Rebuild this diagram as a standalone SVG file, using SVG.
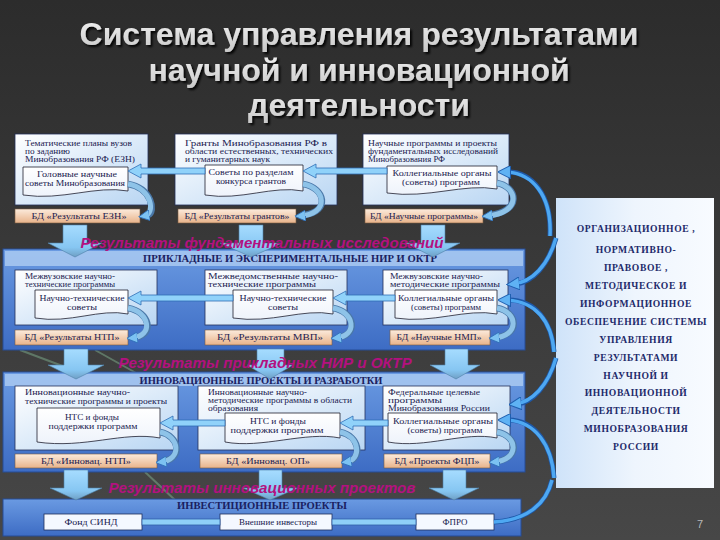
<svg xmlns="http://www.w3.org/2000/svg" width="720" height="540" viewBox="0 0 720 540">
<defs>
<linearGradient id="bg" x1="0" y1="0" x2="0" y2="1"><stop offset="0" stop-color="#2c2c2c"/><stop offset="1" stop-color="#474747"/></linearGradient>
<linearGradient id="boxG" x1="0" y1="0" x2="1" y2="1"><stop offset="0" stop-color="#ffffff"/><stop offset="1" stop-color="#b9d6f3"/></linearGradient>
<linearGradient id="docG" x1="0" y1="0" x2="0" y2="1"><stop offset="0" stop-color="#ffffff"/><stop offset="1" stop-color="#eef3fb"/></linearGradient>
<linearGradient id="bdG" x1="0" y1="0" x2="0" y2="1"><stop offset="0" stop-color="#fcebdc"/><stop offset="1" stop-color="#e8b38a"/></linearGradient>
<linearGradient id="panG" x1="0" y1="0" x2="0" y2="1"><stop offset="0" stop-color="#6a9ae2"/><stop offset="1" stop-color="#3d6cc4"/></linearGradient>
<linearGradient id="rightG" x1="0" y1="0" x2="1" y2="0"><stop offset="0" stop-color="#cfe3f9"/><stop offset="0.5" stop-color="#eef5fd"/><stop offset="1" stop-color="#f8fbff"/></linearGradient>
<linearGradient id="downG" x1="0" y1="0" x2="0" y2="1"><stop offset="0" stop-color="#a6dcff"/><stop offset="0.7" stop-color="#86c6f2"/><stop offset="1" stop-color="#6f9fc4"/></linearGradient>
<linearGradient id="titleG" x1="0" y1="0" x2="0" y2="1"><stop offset="0" stop-color="#f4f4f4"/><stop offset="1" stop-color="#c8c8c8"/></linearGradient>
<filter id="shadow" x="-5%" y="-20%" width="110%" height="150%">
<feDropShadow dx="2" dy="2" stdDeviation="1" flood-color="#000" flood-opacity="0.9"/>
</filter>
<marker id="ah" viewBox="0 0 10 10" refX="5" refY="5" markerWidth="11" markerHeight="11" markerUnits="userSpaceOnUse" orient="auto">
<path d="M0 0 L10 5 L0 10 Z" fill="#7cc2f2" stroke="#2f6fb8" stroke-width="0.8"/>
</marker>
<marker id="ahB" viewBox="0 0 10 10" refX="5" refY="5" markerWidth="13" markerHeight="13" markerUnits="userSpaceOnUse" orient="auto">
<path d="M0 0 L10 5 L0 10 Z" fill="#5fb2f4" stroke="#1f5fb0" stroke-width="0.8"/>
</marker>
<style>
.box{fill:url(#boxG);stroke:#24305a;stroke-width:0.8}
.doc{fill:url(#docG);stroke:#1e1e2e;stroke-width:0.8}
.bd{fill:url(#bdG);stroke:#7a5a40;stroke-width:0.6}
.t{font-family:"Liberation Serif","DejaVu Serif",serif;font-size:8.4px;fill:#1b1b50}
.c{text-anchor:middle}
.hdr{font-family:"Liberation Serif","DejaVu Serif",serif;font-size:9.5px;font-weight:bold;fill:#1a2060;text-anchor:middle}
.ban{font-family:"Liberation Sans","DejaVu Sans",sans-serif;font-size:14px;font-weight:bold;font-style:italic;fill:#b3117f;text-anchor:middle}
.rt{font-family:"Liberation Serif","DejaVu Serif",serif;font-size:9.6px;font-weight:bold;fill:#1e2a6a;text-anchor:middle;letter-spacing:0.6px}
.title{font-family:"Liberation Sans","DejaVu Sans",sans-serif;font-size:32px;font-weight:bold;text-anchor:middle;fill:url(#titleG)}
.harr{fill:#90d2fa;stroke:#2f6db5;stroke-width:0.8}
.carr{fill:none;stroke:#8ec3e8;stroke-width:5;marker-end:url(#ah)}
.carrO{fill:none;stroke:#4a78a8;stroke-width:6.6}
.big{fill:none;stroke:#4ea8f2;stroke-width:3.4;marker-end:url(#ahB)}
.bigO{fill:none;stroke:#1d58a8;stroke-width:5}
.down{fill:url(#downG);stroke:#4d7fa8;stroke-width:0.6}
.pan{fill:url(#panG);stroke:#264c96;stroke-width:1}
.strip{fill:#a9c9f1;opacity:0.85}
.ib{fill:#f4f8ff;stroke:#1e2e5a;stroke-width:0.8}
</style>
</defs>

<rect x="0" y="0" width="720" height="540" fill="url(#bg)"/>
<g opacity="0.35" stroke="#9be0b0" stroke-width="2" fill="none">
<line x1="20" y1="350" x2="105" y2="382"/>
<line x1="95" y1="350" x2="145" y2="378"/>
<line x1="145" y1="472" x2="175" y2="500"/>
</g>

<g id="title" filter="url(#shadow)">
<text class="title" x="359" y="45">Система управления результатами</text>
<text class="title" x="359" y="81">научной и инновационной</text>
<text class="title" x="359" y="116">деятельности</text>
</g>

<!-- section panels -->
<g id="panel-applied">
<rect class="pan" x="3" y="249" width="522" height="101"/>
<rect class="strip" x="5" y="251" width="518" height="15"/>
<text class="hdr" x="290" y="262" textLength="294" lengthAdjust="spacingAndGlyphs">ПРИКЛАДНЫЕ И ЭКСПЕРИМЕНТАЛЬНЫЕ НИР И ОКТР</text>
</g>
<g id="panel-innov">
<rect class="pan" x="3" y="372" width="522" height="100"/>
<rect class="strip" x="5" y="374" width="518" height="12"/>
<text class="hdr" x="261" y="384" textLength="243" lengthAdjust="spacingAndGlyphs">ИННОВАЦИОННЫЕ ПРОЕКТЫ И РАЗРАБОТКИ</text>
</g>
<g id="panel-invest">
<rect class="pan" x="3" y="499" width="518" height="37"/>
<text class="hdr" x="262" y="509" textLength="170" lengthAdjust="spacingAndGlyphs">ИНВЕСТИЦИОННЫЕ ПРОЕКТЫ</text>
</g>

<!-- Row 1 -->
<g id="n-ezn">
<rect class="box" x="15" y="134" width="133" height="71"/>
<text class="t" x="25" y="146" textLength="107" lengthAdjust="spacingAndGlyphs">Тематические планы вузов</text>
<text class="t" x="25" y="154" textLength="45" lengthAdjust="spacingAndGlyphs">по заданию</text>
<text class="t" x="25" y="162" textLength="110" lengthAdjust="spacingAndGlyphs">Минобразования РФ (ЕЗН)</text>
<path class="doc" d="M23 167 H128 V191 C96 185 62 201 23 195 Z"/>
<text class="t c" x="77" y="177" textLength="80" lengthAdjust="spacingAndGlyphs">Головные научные</text>
<text class="t c" x="75" y="186" textLength="100" lengthAdjust="spacingAndGlyphs">советы Минобразования</text>
</g>
<g id="n-bd-ezn"><rect class="bd" x="15" y="209" width="125" height="14"/><text class="t c" x="79" y="219" textLength="95" lengthAdjust="spacingAndGlyphs">БД «Результаты ЕЗН»</text></g>

<g id="n-grants">
<rect class="box" x="175" y="134" width="162" height="71"/>
<text class="t" x="185" y="146" textLength="142" lengthAdjust="spacingAndGlyphs">Гранты Минобразования РФ в</text>
<text class="t" x="185" y="154" textLength="148" lengthAdjust="spacingAndGlyphs">области естественных, технических</text>
<text class="t" x="185" y="162" textLength="85" lengthAdjust="spacingAndGlyphs">и гуманитарных наук</text>
<path class="doc" d="M205 165 H303 V191 C273 185 241 201 205 195 Z"/>
<text class="t c" x="251" y="175" textLength="85" lengthAdjust="spacingAndGlyphs">Советы по разделам</text>
<text class="t c" x="251" y="184" textLength="70" lengthAdjust="spacingAndGlyphs">конкурса грантов</text>
</g>
<g id="n-bd-grants"><rect class="bd" x="178" y="209" width="118" height="14"/><text class="t c" x="237" y="219" textLength="105" lengthAdjust="spacingAndGlyphs">БД «Результаты грантов»</text></g>

<g id="n-fund">
<rect class="box" x="363" y="134" width="146" height="71"/>
<text class="t" x="368" y="146" textLength="129" lengthAdjust="spacingAndGlyphs">Научные программы и проекты</text>
<text class="t" x="368" y="154" textLength="130" lengthAdjust="spacingAndGlyphs">фундаментальных исследований</text>
<text class="t" x="368" y="162" textLength="77" lengthAdjust="spacingAndGlyphs">Минобразования РФ</text>
<path class="doc" d="M387 166 H497 V189 C464 183 428 199 387 193 Z"/>
<text class="t c" x="442" y="176" textLength="99" lengthAdjust="spacingAndGlyphs">Коллегиальные органы</text>
<text class="t c" x="441" y="185" textLength="78" lengthAdjust="spacingAndGlyphs">(советы) программ</text>
</g>
<g id="n-bd-fund"><rect class="bd" x="365" y="209" width="118" height="14"/><text class="t c" x="424" y="219" textLength="108" lengthAdjust="spacingAndGlyphs">БД «Научные программы»</text></g>

<!-- Row 2 -->
<g id="n-ntp">
<rect class="box" x="15" y="270" width="142" height="55"/>
<text class="t" x="25" y="279" textLength="90" lengthAdjust="spacingAndGlyphs">Межвузовские научно-</text>
<text class="t" x="25" y="287" textLength="90" lengthAdjust="spacingAndGlyphs">технические программы</text>
<path class="doc" d="M35 290 H128 V314 C100 308 70 324 35 318 Z"/>
<text class="t c" x="82" y="301" textLength="85" lengthAdjust="spacingAndGlyphs">Научно-технические</text>
<text class="t c" x="82" y="310" textLength="30" lengthAdjust="spacingAndGlyphs">советы</text>
</g>
<g id="n-bd-ntp"><rect class="bd" x="15" y="330" width="113" height="15"/><text class="t c" x="72" y="340" textLength="95" lengthAdjust="spacingAndGlyphs">БД «Результаты НТП»</text></g>

<g id="n-mvp">
<rect class="box" x="205" y="270" width="142" height="55"/>
<text class="t" x="208" y="279" textLength="130" lengthAdjust="spacingAndGlyphs">Межведомственные научно-</text>
<text class="t" x="208" y="287" textLength="108" lengthAdjust="spacingAndGlyphs">технические программы</text>
<path class="doc" d="M233 290 H333 V314 C303 308 271 324 233 318 Z"/>
<text class="t c" x="283" y="301" textLength="87" lengthAdjust="spacingAndGlyphs">Научно-технические</text>
<text class="t c" x="283" y="310" textLength="30" lengthAdjust="spacingAndGlyphs">советы</text>
</g>
<g id="n-bd-mvp"><rect class="bd" x="205" y="330" width="127" height="15"/><text class="t c" x="270" y="340" textLength="106" lengthAdjust="spacingAndGlyphs">БД «Результаты МВП»</text></g>

<g id="n-nmp">
<rect class="box" x="383" y="270" width="125" height="55"/>
<text class="t" x="390" y="279" textLength="93" lengthAdjust="spacingAndGlyphs">Межвузовские научно-</text>
<text class="t" x="390" y="287" textLength="110" lengthAdjust="spacingAndGlyphs">методические программы</text>
<path class="doc" d="M395 290 H497 V314 C466 308 433 324 395 318 Z"/>
<text class="t c" x="446" y="301" textLength="96" lengthAdjust="spacingAndGlyphs">Коллегиальные органы</text>
<text class="t c" x="446" y="310" textLength="70" lengthAdjust="spacingAndGlyphs">(советы) программ</text>
</g>
<g id="n-bd-nmp"><rect class="bd" x="390" y="330" width="100" height="15"/><text class="t c" x="439" y="340" textLength="85" lengthAdjust="spacingAndGlyphs">БД «Научные НМП»</text></g>

<!-- Row 3 -->
<g id="n-intp">
<rect class="box" x="15" y="386" width="163" height="64"/>
<text class="t" x="25" y="395" textLength="105" lengthAdjust="spacingAndGlyphs">Инновационные научно-</text>
<text class="t" x="25" y="404" textLength="142" lengthAdjust="spacingAndGlyphs">технические программы и проекты</text>
<path class="doc" d="M37 408 H160 V438 C123 431 85 449 37 442 Z"/>
<text class="t c" x="92" y="420" textLength="54" lengthAdjust="spacingAndGlyphs">НТС и фонды</text>
<text class="t c" x="93" y="429" textLength="89" lengthAdjust="spacingAndGlyphs">поддержки программ</text>
</g>
<g id="n-bd-intp"><rect class="bd" x="15" y="454" width="142" height="14"/><text class="t c" x="86" y="464" textLength="90" lengthAdjust="spacingAndGlyphs">БД «Инновац. НТП»</text></g>

<g id="n-iop">
<rect class="box" x="198" y="386" width="167" height="64"/>
<text class="t" x="208" y="395" textLength="99" lengthAdjust="spacingAndGlyphs">Инновационные научно-</text>
<text class="t" x="208" y="403" textLength="144" lengthAdjust="spacingAndGlyphs">методические программы в области</text>
<text class="t" x="208" y="411" textLength="50" lengthAdjust="spacingAndGlyphs">образования</text>
<path class="doc" d="M225 413 H340 V438 C305 431 262 449 225 442 Z"/>
<text class="t c" x="278" y="424" textLength="56" lengthAdjust="spacingAndGlyphs">НТС и фонды</text>
<text class="t c" x="277" y="433" textLength="93" lengthAdjust="spacingAndGlyphs">поддержки программ</text>
</g>
<g id="n-bd-iop"><rect class="bd" x="200" y="454" width="142" height="14"/><text class="t c" x="268" y="464" textLength="84" lengthAdjust="spacingAndGlyphs">БД «Инновац. ОП»</text></g>

<g id="n-fcp">
<rect class="box" x="383" y="386" width="127" height="64"/>
<text class="t" x="388" y="395" textLength="92" lengthAdjust="spacingAndGlyphs">Федеральные целевые</text>
<text class="t" x="388" y="403" textLength="54" lengthAdjust="spacingAndGlyphs">программы</text>
<text class="t" x="388" y="411" textLength="102" lengthAdjust="spacingAndGlyphs">Минобразования России</text>
<path class="doc" d="M388 413 H497 V438 C464 431 426 449 388 442 Z"/>
<text class="t c" x="443" y="424" textLength="100" lengthAdjust="spacingAndGlyphs">Коллегиальные органы</text>
<text class="t c" x="445" y="433" textLength="75" lengthAdjust="spacingAndGlyphs">(советы) программ</text>
</g>
<g id="n-bd-fcp"><rect class="bd" x="384" y="454" width="106" height="14"/><text class="t c" x="437" y="464" textLength="85" lengthAdjust="spacingAndGlyphs">БД «Проекты ФЦП»</text></g>

<!-- Row 4 -->
<g id="n-sind"><rect class="ib" x="44" y="514" width="98" height="16"/><text class="t c" x="91" y="525" textLength="53" lengthAdjust="spacingAndGlyphs">Фонд СИНД</text></g>
<g id="n-ext"><rect class="ib" x="220" y="514" width="112" height="16"/><text class="t c" x="278" y="525" textLength="78" lengthAdjust="spacingAndGlyphs">Внешние инвесторы</text></g>
<g id="n-fpro"><rect class="ib" x="416" y="514" width="78" height="16"/><text class="t c" x="455" y="525" textLength="25" lengthAdjust="spacingAndGlyphs">ФПРО</text></g>

<!-- right panel -->
<g id="n-support">
<rect x="556" y="198" width="158" height="290" fill="url(#rightG)"/>
<text class="rt" x="636" y="232">ОРГАНИЗАЦИОННОЕ ,</text>
<text class="rt" x="636" y="253">НОРМАТИВНО-</text>
<text class="rt" x="636" y="271">ПРАВОВОЕ ,</text>
<text class="rt" x="636" y="289">МЕТОДИЧЕСКОЕ И</text>
<text class="rt" x="636" y="307">ИНФОРМАЦИОННОЕ</text>
<text class="rt" x="636" y="325">ОБЕСПЕЧЕНИЕ  СИСТЕМЫ</text>
<text class="rt" x="636" y="343">УПРАВЛЕНИЯ</text>
<text class="rt" x="636" y="361">РЕЗУЛЬТАТАМИ</text>
<text class="rt" x="636" y="379">НАУЧНОЙ И</text>
<text class="rt" x="636" y="396">ИННОВАЦИОННОЙ</text>
<text class="rt" x="636" y="414">ДЕЯТЕЛЬНОСТИ</text>
<text class="rt" x="636" y="432">МИНОБРАЗОВАНИЯ</text>
<text class="rt" x="636" y="450">РОССИИ</text>
</g>

<g id="connectors">
<!-- down arrows -->
<polygon class="down" points="63,225 87,225 87,243 102,243 75,257 48,243 63,243"/>
<polygon class="down" points="239,225 263,225 263,243 282,243 251,257 220,243 239,243"/>
<polygon class="down" points="421,225 445,225 445,243 460,243 433,257 406,243 421,243"/>
<polygon class="down" points="64,349 88,349 88,365 104,365 76,379 48,365 64,365"/>
<polygon class="down" points="257,349 284,349 284,365 293,365 270,379 247,365 257,365"/>
<polygon class="down" points="445,349 468,349 468,365 480,365 456,379 430,365 445,365"/>
<polygon class="down" points="64,470 88,470 88,488 102,488 76,500 50,488 64,488"/>
<polygon class="down" points="259,470 282,470 282,488 298,488 270,500 243,488 259,488"/>
<polygon class="down" points="443,470 466,470 466,488 479,488 454,500 429,488 443,488"/>

<!-- horizontal arrows -->
<polygon class="harr" points="205,168 141,168 141,164 128,171 141,178 141,174 205,174"/>
<polygon class="harr" points="387,168 316,168 316,164 303,171 316,178 316,174 387,174"/>
<polygon class="harr" points="233,295 141,295 141,291 128,298 141,305 141,301 233,301"/>
<polygon class="harr" points="395,295 346,295 346,291 333,298 346,305 346,301 395,301"/>
<polygon class="harr" points="225,420 173,420 173,416 160,423 173,430 173,426 225,426"/>
<polygon class="harr" points="388,420 353,420 353,416 340,423 353,430 353,426 388,426"/>

<!-- curved arrows to databases -->
<path class="carrO" d="M128 184 C152 188, 156 212, 148 215"/>
<path class="carr" d="M128 184 C152 188, 156 214, 144 216"/>
<path class="carrO" d="M303 184 C326 188, 330 212, 304 215"/>
<path class="carr" d="M303 184 C326 188, 330 214, 300 216"/>
<path class="carrO" d="M497 183 C518 187, 522 211, 490 215"/>
<path class="carr" d="M497 183 C518 187, 522 213, 487 216"/>
<path class="carrO" d="M128 308 C150 312, 154 334, 137 337"/>
<path class="carr" d="M128 308 C150 312, 154 336, 132 338"/>
<path class="carrO" d="M333 308 C355 312, 358 334, 340 337"/>
<path class="carr" d="M333 308 C355 312, 358 336, 336 338"/>
<path class="carrO" d="M497 308 C518 312, 520 334, 498 337"/>
<path class="carr" d="M497 308 C518 312, 520 336, 494 338"/>
<path class="carrO" d="M160 432 C180 436, 182 458, 165 461"/>
<path class="carr" d="M160 432 C180 436, 182 460, 161 462"/>
<path class="carrO" d="M340 432 C360 436, 362 458, 349 461"/>
<path class="carr" d="M340 432 C360 436, 362 460, 346 462"/>
<path class="carrO" d="M497 432 C518 436, 520 458, 498 461"/>
<path class="carr" d="M497 432 C518 436, 520 460, 494 462"/>

<!-- investment links -->
<rect x="142" y="519" width="78" height="6" fill="#8fd0f8" stroke="#2f5fa8" stroke-width="0.8"/>
<rect x="332" y="519" width="84" height="6" fill="#8fd0f8" stroke="#2f5fa8" stroke-width="0.8"/>

<!-- big curves from support panel -->
<path class="bigO" d="M550 236 C552 195, 532 172, 508 172"/>
<path class="big" d="M550 236 C552 195, 532 172, 504 172"/>
<path class="bigO" d="M556 238 C548 266, 532 282, 516 284"/>
<path class="big" d="M556 238 C548 266, 532 282, 513 284"/>
<path class="bigO" d="M554 352 C552 322, 536 300, 508 300"/>
<path class="big" d="M554 352 C552 322, 536 300, 504 300"/>
<path class="bigO" d="M556 358 C548 386, 532 402, 518 404"/>
<path class="big" d="M556 358 C548 386, 532 402, 515 404"/>
<path class="bigO" d="M554 478 C552 446, 536 420, 508 420"/>
<path class="big" d="M554 478 C552 446, 536 420, 504 420"/>
<path class="bigO" d="M494 522 C526 520, 546 505, 552 480"/>
<path fill="none" stroke="#4ea8f2" stroke-width="3.4" d="M494 522 C526 520, 546 505, 552 480"/>
</g>

<!-- banners -->
<g id="banners">
<text class="ban" x="262" y="248" textLength="363" lengthAdjust="spacingAndGlyphs">Результаты фундаментальных исследований</text>
<text class="ban" x="265" y="368" textLength="293" lengthAdjust="spacingAndGlyphs">Результаты прикладных НИР и ОКТР</text>
<text class="ban" x="262" y="493" textLength="307" lengthAdjust="spacingAndGlyphs">Результаты инновационных проектов</text>
</g>

<text x="697" y="528" font-family="Liberation Sans, sans-serif" font-size="11" fill="#b8b8b8">7</text>
</svg>
